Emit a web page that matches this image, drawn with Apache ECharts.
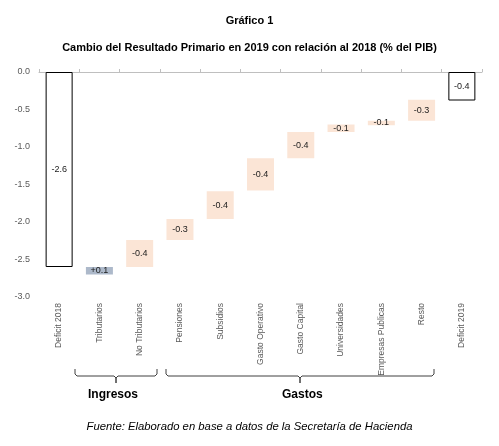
<!DOCTYPE html>
<html>
<head>
<meta charset="utf-8">
<script src="https://cdn.jsdelivr.net/npm/echarts@6/dist/echarts.min.js"></script>
<style>
  html, body { margin: 0; padding: 0; background: #fff; }
  #main { width: 499px; height: 446px; }
</style>
</head>
<body>
<div id="main"></div>
<script>
// datos
var categories = ['Deficit 2018', 'Tributarios', 'No Tributarios', 'Pensiones', 'Subsidios',
  'Gasto Operativo', 'Gasto Capital', 'Universidades', 'Empresas Publicas', 'Resto', 'Deficit 2019'];
// borde superior de cada barra (parte invisible)
var baseValues = [0, -2.6, -2.24, -1.96, -1.59, -1.15, -0.80, -0.70, -0.65, -0.37, 0];
// altura de cada barra
var barValues = [-2.6, -0.1, -0.36, -0.28, -0.37, -0.43, -0.35, -0.10, -0.06, -0.28, -0.38];
var labelText = ['-2.6', '+0.1', '-0.4', '-0.3', '-0.4', '-0.4', '-0.4', '-0.1', '-0.1', '-0.3', '-0.4'];
var yTicks = [0, -0.5, -1, -1.5, -2, -2.5, -3];

var font = 'Liberation Sans';

function barColor(i) {
  if (i === 0 || i === categories.length - 1) {
    return { color: '#ffffff', borderColor: '#000000', borderWidth: 1 };
  }
  if (labelText[i].charAt(0) === '+') return { color: '#adb9ca' };
  return { color: '#fbe5d6' };
}

// llave horizontal debajo de las etiquetas
function brace(x1, x2, y) {
  var xm = (x1 + x2) / 2;
  return {
    type: 'polyline',
    shape: { points: [[x1, y - 7], [x1, y - 2], [x1 + 2, y], [xm - 2, y], [xm, y + 2], [xm, y + 7],
      [xm, y + 2], [xm + 2, y], [x2 - 2, y], [x2, y - 2], [x2, y - 7]] },
    style: { stroke: '#404040', lineWidth: 1, fill: null }
  };
}

var chart = echarts.init(document.getElementById('main'));
var option = {
  animation: false,
  textStyle: { fontFamily: font },
  title: [
    { text: 'Gráfico 1', left: 'center', top: 10,
      textStyle: { fontSize: 11, fontWeight: 'bold', color: '#000', fontFamily: font } },
    { text: 'Cambio del Resultado Primario en 2019 con relación al 2018 (% del PIB)', left: 'center', top: 37,
      textStyle: { fontSize: 11, fontWeight: 'bold', color: '#000', fontFamily: font } }
  ],
  grid: { left: 39, right: 17, top: 72, bottom: 149 },
  xAxis: [
    {
      type: 'category', data: categories, position: 'top',
      axisLine: { show: true, lineStyle: { color: '#bfbfbf' } },
      axisTick: { show: true, interval: 0, length: 3, lineStyle: { color: '#bfbfbf' } },
      axisLabel: { show: false }
    },
    {
      type: 'category', data: categories, position: 'bottom',
      axisLine: { show: false }, axisTick: { show: false },
      axisLabel: { rotate: 90, fontSize: 8.5, color: '#595959', margin: 6, interval: 0 }
    }
  ],
  yAxis: {
    type: 'value', min: -3, max: 0, interval: 0.5,
    axisLine: { show: false }, axisTick: { show: false }, splitLine: { show: false },
    axisLabel: { fontSize: 9, color: '#595959', margin: 9,
      formatter: function (v) { return v.toFixed(1); } }
  },
  series: [
    {
      type: 'bar', stack: 'w', barWidth: 27, silent: true,
      itemStyle: { color: 'transparent' },
      data: baseValues
    },
    {
      type: 'bar', stack: 'w', barWidth: 27,
      data: barValues.map(function (v, i) { return { value: v, itemStyle: barColor(i) }; }),
      label: {
        show: true, position: 'inside', fontSize: 9, color: '#1a1a1a',
        formatter: function (p) { return labelText[p.dataIndex]; }
      }
    }
  ],
  graphic: [
    brace(75, 157, 376),
    brace(166, 434, 376),
    { type: 'text', left: 88, top: 389,
      style: { text: 'Ingresos', font: 'bold 12px ' + font, fill: '#000' } },
    { type: 'text', left: 282, top: 389,
      style: { text: 'Gastos', font: 'bold 12px ' + font, fill: '#000' } },
    { type: 'text', left: 'center', top: 421,
      style: { text: 'Fuente: Elaborado en base a datos de la Secretaría de Hacienda',
        font: 'italic 11.3px ' + font, fill: '#000' } }
  ]
};
chart.setOption(option);
</script>
</body>
</html>
